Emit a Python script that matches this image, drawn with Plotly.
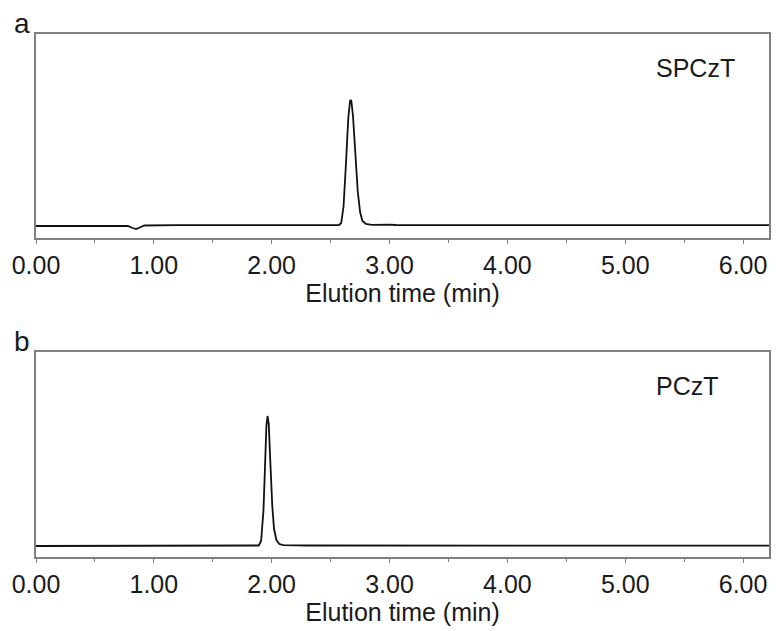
import plotly.graph_objects as go
from plotly.subplots import make_subplots

# ---- data (signal in arbitrary units above baseline) ----
time_a = [0.00, 0.40, 0.78, 0.82, 0.85, 0.88, 0.92, 1.20, 2.00, 2.50, 2.57, 2.59, 2.61, 2.63,
          2.65, 2.665, 2.675, 2.69, 2.71, 2.73, 2.75, 2.77, 2.80, 2.85, 3.00, 3.05, 4.00, 5.00, 6.22]
signal_a = [0.0, 0.0, 0.0, -2.0, -3.0, -1.5, 0.5, 0.8, 1.0, 1.0, 1.0, 3.0, 20.0, 62.0,
            108.0, 125.0, 126.0, 110.0, 72.0, 35.0, 14.0, 5.0, 2.0, 1.2, 1.4, 1.0, 0.8, 0.8, 0.8]

time_b = [0.00, 0.80, 0.85, 1.00, 1.85, 1.89, 1.91, 1.93, 1.945, 1.955, 1.965, 1.975, 1.99,
          2.005, 2.02, 2.04, 2.065, 2.10, 2.30, 6.22]
signal_b = [0.0, 0.0, 0.6, 0.5, 0.3, 0.5, 5.0, 35.0, 85.0, 120.0, 130.0, 122.0, 80.0,
            40.0, 17.0, 6.0, 2.0, 0.8, 0.5, 0.3]

tick_vals = [0, 1, 2, 3, 4, 5, 6]
tick_text = ["0.00", "1.00", "2.00", "3.00", "4.00", "5.00", "6.00"]
x_title = "Elution time (min)"
labels = ["SPCzT", "PCzT"]
panel_letters = ["a", "b"]

FONT = "Liberation Sans, Arial, sans-serif"
TXT = "#1a1a1a"
BOX = "#808080"

fig = make_subplots(rows=2, cols=1, vertical_spacing=0.2)

fig.add_trace(go.Scatter(x=time_a, y=signal_a, mode="lines",
                         line=dict(color="#111111", width=1.8), showlegend=False), row=1, col=1)
fig.add_trace(go.Scatter(x=time_b, y=signal_b, mode="lines",
                         line=dict(color="#111111", width=1.8), showlegend=False), row=2, col=1)

H = 631
t, b = 34, 74
ph = H - t - b
dom_a = [1 - (238 - 34) / ph, 1.0]
dom_b = [0.0, (557 - 352) / ph]

xax = dict(range=[0, 6.22], tickmode="array", tickvals=tick_vals, ticktext=tick_text,
           ticks="outside", ticklen=4, tickcolor=BOX, tickwidth=1,
           minor=dict(dtick=0.5, tick0=0, ticks="outside", ticklen=3, tickcolor=BOX),
           showline=True, linecolor=BOX, linewidth=1.6, mirror=True,
           showgrid=False, zeroline=False,
           tickfont=dict(family=FONT, size=25, color=TXT),
           title=dict(text=x_title, font=dict(family=FONT, size=25, color=TXT), standoff=6))
yax = dict(showticklabels=False, ticks="", showgrid=False, zeroline=False,
           showline=True, linecolor=BOX, linewidth=1.6, mirror=True)

fig.update_xaxes(**xax)
fig.update_yaxes(**yax)
fig.update_yaxes(range=[-12, 192], domain=dom_a, row=1, col=1)
fig.update_yaxes(range=[-11, 194], domain=dom_b, row=2, col=1)

for i, (lab, letter) in enumerate(zip(labels, panel_letters)):
    yref = "y domain" if i == 0 else "y2 domain"
    xref = "x domain" if i == 0 else "x2 domain"
    fig.add_annotation(text=lab, xref=xref, yref=yref, x=(656 - 36) / 735, y=1,
                       xanchor="left", yanchor="top", yshift=-18, showarrow=False,
                       font=dict(family=FONT, size=25, color=TXT))
    fig.add_annotation(text=letter, xref=xref, yref=yref, x=(12 - 36) / 735, y=1,
                       xanchor="left", yanchor="bottom", yshift=-7, showarrow=False,
                       font=dict(family=FONT, size=28, color=TXT))

fig.update_layout(width=777, height=631, margin=dict(l=36, r=6, t=t, b=b),
                  paper_bgcolor="white", plot_bgcolor="white")

fig.write_html("out.html")
